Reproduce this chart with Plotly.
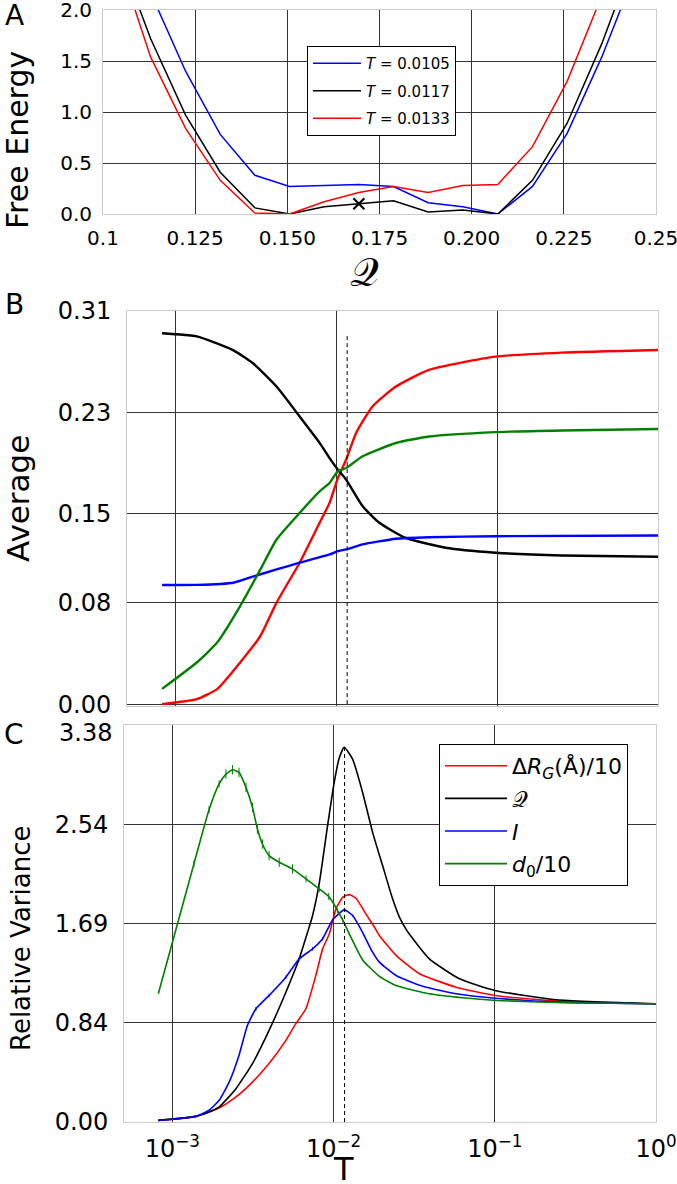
import plotly.graph_objects as go

W, H = 677, 1184

# ---------------- Panel A data ----------------
q_bins = [0.1035, 0.1129, 0.1224, 0.1318, 0.1412, 0.1506, 0.1600, 0.1694,
          0.1788, 0.1882, 0.1976, 0.2071, 0.2165, 0.2259, 0.2353, 0.2447]
fe_T0105 = [2.9, 2.17, 1.40, 0.78, 0.38, 0.27, 0.28, 0.29, 0.27, 0.11, 0.07,
            0.0, 0.27, 0.79, 1.54, 2.4]
fe_T0117 = [2.63, 1.72, 0.97, 0.41, 0.06, 0.0, 0.07, 0.10, 0.13, 0.02, 0.04,
            0.0, 0.33, 0.89, 1.67, 2.58]
fe_T0133 = [2.57, 1.54, 0.84, 0.33, 0.01, 0.0, 0.12, 0.21, 0.27, 0.21, 0.28,
            0.29, 0.66, 1.30, 2.14, 3.0]
marker_q = [0.1694]
marker_fe = [0.10]
a_xticks = [0.1, 0.125, 0.15, 0.175, 0.2, 0.225, 0.25]
a_xtext = ["0.1", "0.125", "0.150", "0.175", "0.200", "0.225", "0.25"]
a_yticks = [0.0, 0.5, 1.0, 1.5, 2.0]
a_ytext = ["0.0", "0.5", "1.0", "1.5", "2.0"]

# ---------------- Panel B data (averages vs T) ----------------
T_b_q = [0.000828, 0.00136, 0.0023, 0.00303, 0.00426, 0.00593, 0.00789, 0.0091,
         0.01023, 0.01153, 0.01462, 0.01854, 0.02707, 0.04786, 0.0977, 0.2523, 1.0]
avg_q = [0.2925, 0.290, 0.279, 0.269, 0.2504, 0.2268, 0.206, 0.194, 0.185,
         0.177, 0.156, 0.143, 0.131, 0.1233, 0.1194, 0.1172, 0.1162]

T_b_rg = [0.000828, 0.00136, 0.00182, 0.00253, 0.00338, 0.00426, 0.00593, 0.00789,
          0.0091, 0.01023, 0.01153, 0.0133, 0.01682, 0.02349, 0.03776, 0.0977,
          0.2523, 1.0]
avg_rg = [0.0, 0.0039, 0.0118, 0.0328, 0.0537, 0.080, 0.1115, 0.143, 0.1587,
          0.178, 0.1928, 0.2138, 0.2347, 0.2504, 0.2636, 0.274, 0.2772, 0.2793]

T_b_i = [0.000828, 0.00136, 0.0023, 0.00303, 0.00426, 0.00593, 0.0091, 0.01023,
         0.01153, 0.01462, 0.02349, 0.03776, 0.0977, 1.0]
avg_i = [0.0939, 0.094, 0.0957, 0.1005, 0.1062, 0.1115, 0.118, 0.1206, 0.122,
         0.1259, 0.1304, 0.1316, 0.1324, 0.133]

T_b_d0 = [0.000828, 0.00136, 0.00182, 0.00253, 0.00338, 0.00426, 0.00593,
          0.00789, 0.0091, 0.01023, 0.01153, 0.01462, 0.02349, 0.03776, 0.0977,
          0.2523, 1.0]
avg_d0 = [0.012, 0.0328, 0.0485, 0.0773, 0.1062, 0.1298, 0.1508, 0.1678,
          0.1744, 0.1836, 0.1862, 0.1954, 0.2059, 0.211, 0.2145, 0.2158, 0.2169]

T_c = 0.0117

# ---------------- Panel C data (relative variance vs T) ----------------
T_c_rg = [0.000818, 0.0014, 0.00195, 0.00248, 0.00314, 0.00398, 0.00506, 0.00583,
          0.00673, 0.00776, 0.00855, 0.0094, 0.01035, 0.01138, 0.01253, 0.01377,
          0.01589, 0.01791, 0.01923, 0.02443, 0.03412, 0.05754, 0.1, 0.2649, 1.0]
var_rg = [0.014, 0.048, 0.119, 0.213, 0.34, 0.497, 0.695, 0.837, 0.964, 1.247,
          1.474, 1.60, 1.815, 1.913, 1.936, 1.905, 1.77, 1.66, 1.588, 1.418,
          1.262, 1.148, 1.077, 1.026, 1.007]

T_c_q = [0.000818, 0.0014, 0.00169, 0.00195, 0.00248, 0.00314, 0.00398, 0.00506,
         0.00612, 0.0069, 0.00741, 0.00817, 0.00918, 0.01009, 0.01084, 0.01164,
         0.01312, 0.01514, 0.01746, 0.02014, 0.02323, 0.0257, 0.02818, 0.03105,
         0.03926, 0.06039, 0.1, 0.2415, 1.0]
var_q = [0.014, 0.048, 0.085, 0.128, 0.284, 0.497, 0.78, 1.105, 1.389, 1.616,
         1.758, 2.041, 2.523, 2.891, 3.10, 3.19, 3.09, 2.806, 2.466, 2.183, 1.9,
         1.74, 1.64, 1.56, 1.389, 1.219, 1.12, 1.041, 1.007]

T_c_i = [0.000818, 0.001, 0.0014, 0.00169, 0.00195, 0.00225, 0.00259, 0.00292,
         0.0033, 0.00398, 0.00506, 0.00612, 0.00741, 0.00855, 0.00986, 0.01164,
         0.01312, 0.01479, 0.01738, 0.01923, 0.02443, 0.03573, 0.05754, 0.1,
         0.2649, 1.0]
var_i = [0.014, 0.023, 0.048, 0.10, 0.185, 0.34, 0.567, 0.822, 0.964, 1.077,
         1.233, 1.389, 1.474, 1.56, 1.72, 1.806, 1.758, 1.64, 1.45, 1.361,
         1.247, 1.156, 1.092, 1.054, 1.02, 1.007]
err_i = [0.0, 0.0, 0.0, 0.0, 0.0, 0.0, 0.0, 0.01, 0.015, 0.015, 0.015, 0.015,
         0.015, 0.015, 0.01, 0.01, 0.01, 0.0, 0.0, 0.0, 0.0, 0.0, 0.0, 0.0,
         0.0, 0.0]

T_c_d0 = [0.000818, 0.00136, 0.00169, 0.00195, 0.00215, 0.00236, 0.00259,
          0.00286, 0.00314, 0.00337, 0.00362, 0.00398, 0.0046, 0.00556, 0.00675,
          0.00815, 0.00933, 0.01, 0.01059, 0.01138, 0.01253, 0.01514, 0.01923,
          0.02443, 0.03926, 0.0632, 0.1023, 0.2649, 1.0]
var_d0 = [1.092, 2.197, 2.66, 2.878, 2.962, 2.999, 2.976, 2.849, 2.679, 2.495,
          2.367, 2.268, 2.211, 2.155, 2.07, 1.985, 1.92, 1.86, 1.80, 1.72, 1.60,
          1.38, 1.24, 1.162, 1.092, 1.058, 1.035, 1.015, 1.007]
err_d0 = [0.0, 0.03, 0.03, 0.03, 0.04, 0.04, 0.04, 0.04, 0.04, 0.04, 0.04,
          0.04, 0.04, 0.04, 0.03, 0.03, 0.03, 0.02, 0.02, 0.02, 0.01, 0.01,
          0.0, 0.0, 0.0, 0.0, 0.0, 0.0, 0.0]

log_ticks = [0.001, 0.01, 0.1, 1.0]
log_text = ["10<sup>\u22123</sup>", "10<sup>\u22122</sup>", "10<sup>\u22121</sup>", "10<sup>0</sup>"]
b_yticks = [0.0, 0.08, 0.15, 0.23, 0.31]
b_ytext = ["0.00", "0.08", "0.15", "0.23", "0.31"]
c_yticks = [0.0, 0.845, 1.69, 2.535]
c_ytext = ["0.00", "0.84", "1.69", "2.54"]
c_ytop_label = "3.38"
c_ytop = 3.38

FONT = "DejaVu Sans"
fig = go.Figure()

# ---- Panel A traces ----
for vals, col, name in [(fe_T0105, "blue", "<i>T</i> = 0.0105"),
                        (fe_T0117, "black", "<i>T</i> = 0.0117"),
                        (fe_T0133, "red", "<i>T</i> = 0.0133")]:
    fig.add_trace(go.Scatter(x=q_bins, y=vals, mode="lines", name=name,
                             line=dict(color=col, width=1.5), legendgroup="a" + col,
                             xaxis="x", yaxis="y", legend="legend"))
fig.add_trace(go.Scatter(x=marker_q, y=marker_fe, mode="markers", showlegend=False,
                         marker=dict(symbol="x-thin", size=11, line=dict(color="black", width=2.2)),
                         xaxis="x", yaxis="y", cliponaxis=False))

# ---- Panel B traces ----
for xs, ys, col in [(T_b_rg, avg_rg, "red"), (T_b_q, avg_q, "black"),
                    (T_b_i, avg_i, "blue"), (T_b_d0, avg_d0, "green")]:
    fig.add_trace(go.Scatter(x=xs, y=ys, mode="lines", showlegend=False,
                             line=dict(color=col, width=2.4, shape="spline", smoothing=0.5),
                             xaxis="x2", yaxis="y2"))
fig.add_trace(go.Scatter(x=[T_c, T_c], y=[0, max(avg_q)], mode="lines", showlegend=False,
                         line=dict(color="black", width=1, dash="4px,3px"),
                         xaxis="x2", yaxis="y2"))

# ---- Panel C traces ----
for xs, ys, col, name, err in [(T_c_rg, var_rg, "red", "\u0394<i>R<sub>G</sub></i>(\u00c5)/10", None),
                               (T_c_q, var_q, "black", "\U0001D4AC", None),
                               (T_c_i, var_i, "blue", "<i>I</i>", err_i),
                               (T_c_d0, var_d0, "green", "<i>d</i><sub>0</sub>/10", err_d0)]:
    kw = {}
    if err is not None:
        kw["error_y"] = dict(type="data", array=err, visible=True, color=col,
                             thickness=1, width=0)
    fig.add_trace(go.Scatter(x=xs, y=ys, mode="lines", name=name, legendgroup="c" + col,
                             line=dict(color=col, width=1.6, shape="spline", smoothing=0.5),
                             xaxis="x3", yaxis="y3", legend="legend2", **kw))
fig.add_trace(go.Scatter(x=[T_c, T_c], y=[0, max(var_q)], mode="lines", showlegend=False,
                         line=dict(color="black", width=1, dash="4px,3px"),
                         xaxis="x3", yaxis="y3"))

def px_x(p):
    return p / W

def px_y(p):
    return 1 - p / H

axis_common = dict(showline=True, mirror=True, linecolor="#cccccc", linewidth=1,
                   showgrid=True, gridcolor="#333333", gridwidth=1, zeroline=False,
                   ticks="", color="black", automargin=False, ticklabeloverflow="allow")

fig.update_layout(
    template="none",
    width=W, height=H,
    margin=dict(l=0, r=0, t=0, b=0, autoexpand=False),
    paper_bgcolor="white", plot_bgcolor="white",
    font=dict(family=FONT, color="black"),
    xaxis=dict(axis_common, domain=[px_x(103), px_x(656)], range=[0.1, 0.25],
               tickvals=a_xticks, ticktext=a_xtext, tickfont=dict(size=20),
               anchor="y", ticklabelstandoff=6),
    yaxis=dict(axis_common, domain=[px_y(214), px_y(10)], range=[0, 2],
               tickvals=a_yticks, ticktext=a_ytext, tickfont=dict(size=20),
               anchor="x", ticklabelstandoff=6),
    xaxis2=dict(axis_common, domain=[px_x(127), px_x(658)], type="log", range=[-3.3, 0],
                tickvals=log_ticks, showticklabels=False, anchor="y2"),
    yaxis2=dict(axis_common, domain=[px_y(706), px_y(311)], range=[-0.0015, 0.31],
                tickvals=b_yticks, ticktext=b_ytext, tickfont=dict(size=24),
                anchor="x2", ticklabelstandoff=10),
    xaxis3=dict(axis_common, domain=[px_x(124), px_x(656)], type="log", range=[-3.3, 0],
                tickvals=log_ticks, ticktext=log_text, tickfont=dict(size=24),
                anchor="y3", ticklabelstandoff=5),
    yaxis3=dict(axis_common, domain=[px_y(1122), px_y(725)], range=[0, c_ytop],
                tickvals=c_yticks, ticktext=c_ytext, tickfont=dict(size=24),
                anchor="x3", ticklabelstandoff=10),
    legend=dict(x=px_x(307), y=px_y(46), xanchor="left", yanchor="top",
                bgcolor="white", bordercolor="black", borderwidth=1, itemwidth=48,
                font=dict(size=15, family=FONT), tracegroupgap=5),
    legend2=dict(x=px_x(439), y=px_y(744), xanchor="left", yanchor="top",
                 bgcolor="white", bordercolor="black", borderwidth=1, itemwidth=62,
                 font=dict(size=22, family=FONT), tracegroupgap=1),
)

ann = []
def add_text(text, x, y, size, angle=0, family=FONT, xanchor="center", yanchor="middle"):
    ann.append(dict(text=text, x=px_x(x), y=px_y(y), xref="paper", yref="paper",
                    showarrow=False, font=dict(size=size, family=family, color="black"),
                    textangle=angle, xanchor=xanchor, yanchor=yanchor))

add_text("A", 14, 16, 28)
add_text("B", 14, 305, 28)
add_text("C", 14, 734, 28)
add_text("Free Energy", 18, 140, 30, -90)
add_text("Average", 18, 499, 31, -90)
add_text("Relative Variance", 21, 939, 26, -90)
add_text("\U0001D4AC", 364, 272, 40)
add_text("T", 343, 1169, 32)
add_text(c_ytop_label, 114, 733, 24, xanchor="right")
fig.update_layout(annotations=ann)

fig.write_html("out.html", config={"displayModeBar": False},
               post_script="document.body.style.margin='0';document.body.style.overflow='hidden';")
